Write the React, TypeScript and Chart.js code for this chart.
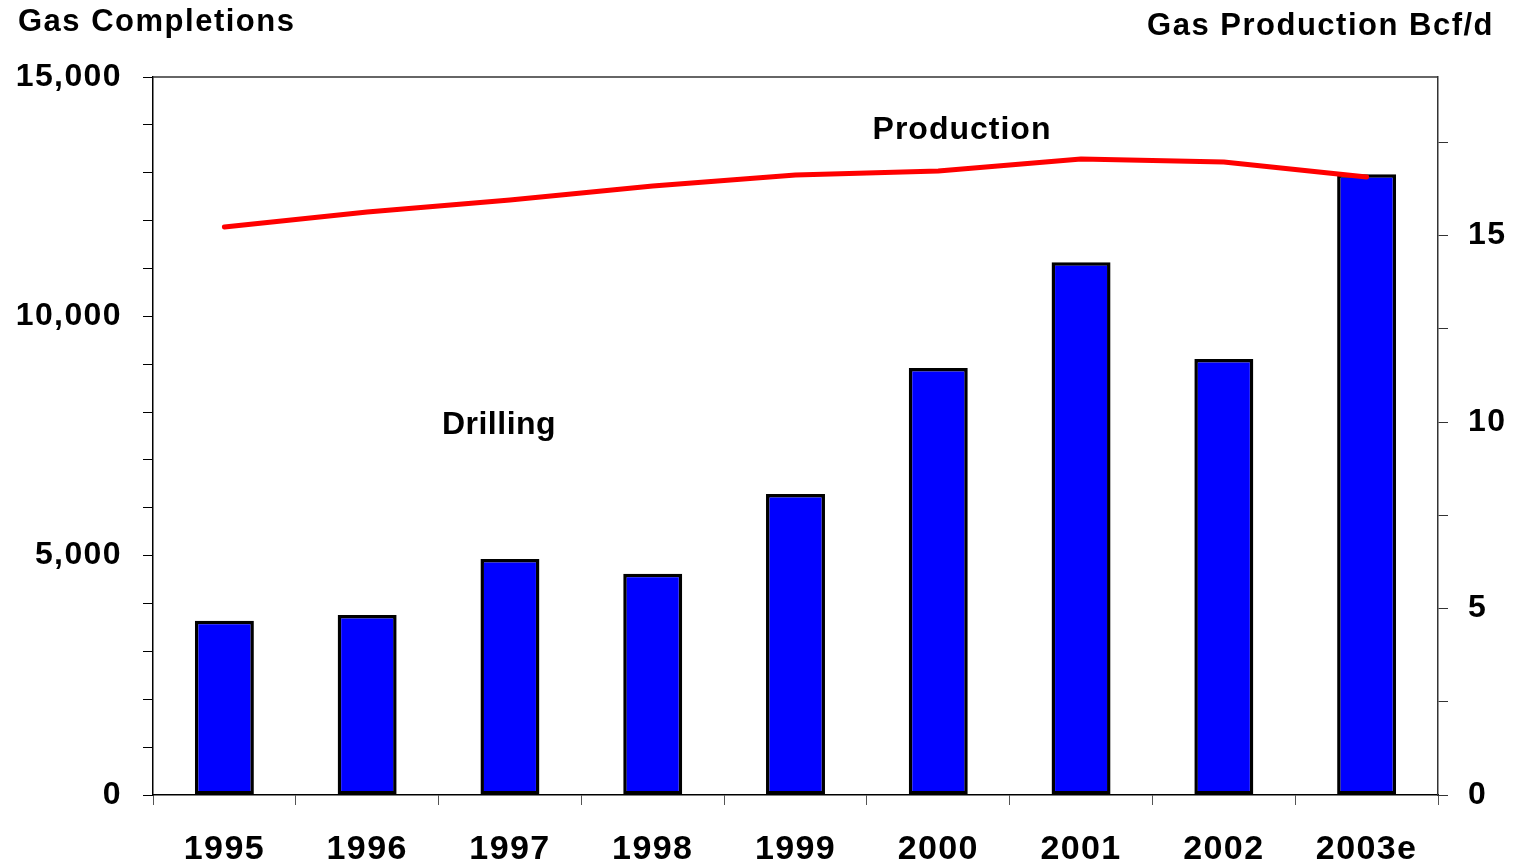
import React, { useEffect, useRef } from 'react';
import { Chart, registerables } from 'chart.js';

Chart.register(...registerables);

const categories = ['1995', '1996', '1997', '1998', '1999', '2000', '2001', '2002', '2003e'];
const drillingCompletions = [3640, 3760, 4930, 4620, 6290, 8920, 11130, 9110, 12970];
const productionBcfd = [15.23, 15.63, 15.95, 16.33, 16.62, 16.73, 17.05, 16.97, 16.57];

const leftTitle = 'Gas Completions';
const rightTitle = 'Gas Production Bcf/d';
const productionLabel = 'Production';
const drillingLabel = 'Drilling';

const FONT = "'Liberation Sans', Arial, sans-serif";

const spacingPlugin = {
  id: 'spacing',
  beforeDraw(chart: any) {
    chart.ctx.letterSpacing = '1.4px';
  },
  afterDraw(chart: any) {
    chart.ctx.letterSpacing = '0px';
  },
};

const overlayPlugin = {
  id: 'overlay',
  afterDraw(chart: any) {
    const { ctx, chartArea } = chart;
    ctx.save();
    ctx.strokeStyle = '#333';
    ctx.lineWidth = 1.5;
    ctx.beginPath();
    ctx.moveTo(chartArea.left, chartArea.top);
    ctx.lineTo(chartArea.right, chartArea.top);
    ctx.stroke();

    ctx.fillStyle = '#000';
    ctx.textBaseline = 'alphabetic';
    ctx.font = `bold 31px ${FONT}`;
    ctx.letterSpacing = '1.5px';
    ctx.textAlign = 'left';
    ctx.fillText(leftTitle, 18, 31);
    ctx.textAlign = 'right';
    ctx.fillText(rightTitle, 1494, 35);

    ctx.font = `bold 32px ${FONT}`;
    ctx.letterSpacing = '1px';
    ctx.textAlign = 'center';
    ctx.fillText(productionLabel, 962, 139);
    ctx.letterSpacing = '0.5px';
    ctx.fillText(drillingLabel, 499, 434);
    ctx.restore();
  },
};

export default function App() {
  const canvasRef = useRef<HTMLCanvasElement | null>(null);

  useEffect(() => {
    if (!canvasRef.current) return;
    const tickFont = { family: FONT, weight: 'bold' as const, size: 32 };
    const chart = new Chart(canvasRef.current, {
      type: 'bar',
      data: {
        labels: categories,
        datasets: [
          {
            type: 'line',
            label: 'Production',
            data: productionBcfd,
            yAxisID: 'y1',
            borderColor: '#FF0000',
            borderWidth: 5,
            pointRadius: 0,
            borderCapStyle: 'round',
            borderJoinStyle: 'round',
            tension: 0,
            order: 0,
          } as any,
          {
            type: 'bar',
            label: 'Drilling',
            data: drillingCompletions,
            yAxisID: 'y',
            backgroundColor: '#0000FF',
            borderColor: '#000000',
            borderWidth: 3.5,
            borderSkipped: false,
            categoryPercentage: 1,
            barPercentage: 0.413,
            order: 1,
          } as any,
        ],
      },
      options: {
        animation: false,
        responsive: true,
        maintainAspectRatio: false,
        layout: { padding: { top: 77, left: 0, right: 0, bottom: 0 } },
        plugins: { legend: { display: false }, tooltip: { enabled: false } },
        scales: {
          x: {
            grid: {
              display: true,
              drawOnChartArea: false,
              drawTicks: true,
              tickLength: 10,
              color: '#555',
              offset: true,
            },
            border: { display: true, color: '#000', width: 1.5 },
            ticks: {
              font: { ...tickFont, size: 34 },
              color: '#000',
              padding: 24,
              maxRotation: 0,
              autoSkip: false,
            },
            afterFit(s: any) {
              s.height = 69;
            },
          },
          y: {
            position: 'left',
            min: 0,
            max: 15000,
            grid: { drawOnChartArea: false, drawTicks: true, tickLength: 10, color: '#000' },
            border: { display: true, color: '#000', width: 1.5 },
            ticks: {
              stepSize: 1000,
              autoSkip: false,
              color: '#000',
              font: tickFont,
              padding: 21,
              callback: (v: any) => (Number(v) % 5000 === 0 ? Number(v).toLocaleString('en-US') : ''),
            },
            afterFit(s: any) {
              s.width = 153;
            },
          },
          y1: {
            position: 'right',
            min: 0,
            max: 19.25,
            grid: { drawOnChartArea: false, drawTicks: true, tickLength: 10, color: '#333' },
            border: { display: true, color: '#333', width: 1.5 },
            afterBuildTicks(s: any) {
              s.ticks = s.ticks.filter((t: any) => Math.abs(t.value / 2.5 - Math.round(t.value / 2.5)) < 1e-6);
            },
            ticks: {
              stepSize: 2.5,
              autoSkip: false,
              color: '#000',
              font: tickFont,
              padding: 20,
              callback: (v: any) => (Number(v) % 5 === 0 ? String(v) : ''),
            },
            afterFit(s: any) {
              s.width = 81;
            },
          },
        },
      },
      plugins: [spacingPlugin, overlayPlugin],
    });
    return () => chart.destroy();
  }, []);

  return (
    <div style={{ position: 'fixed', left: 0, top: 0, width: 1519, height: 864, background: '#fff' }}>
      <canvas ref={canvasRef} />
    </div>
  );
}
